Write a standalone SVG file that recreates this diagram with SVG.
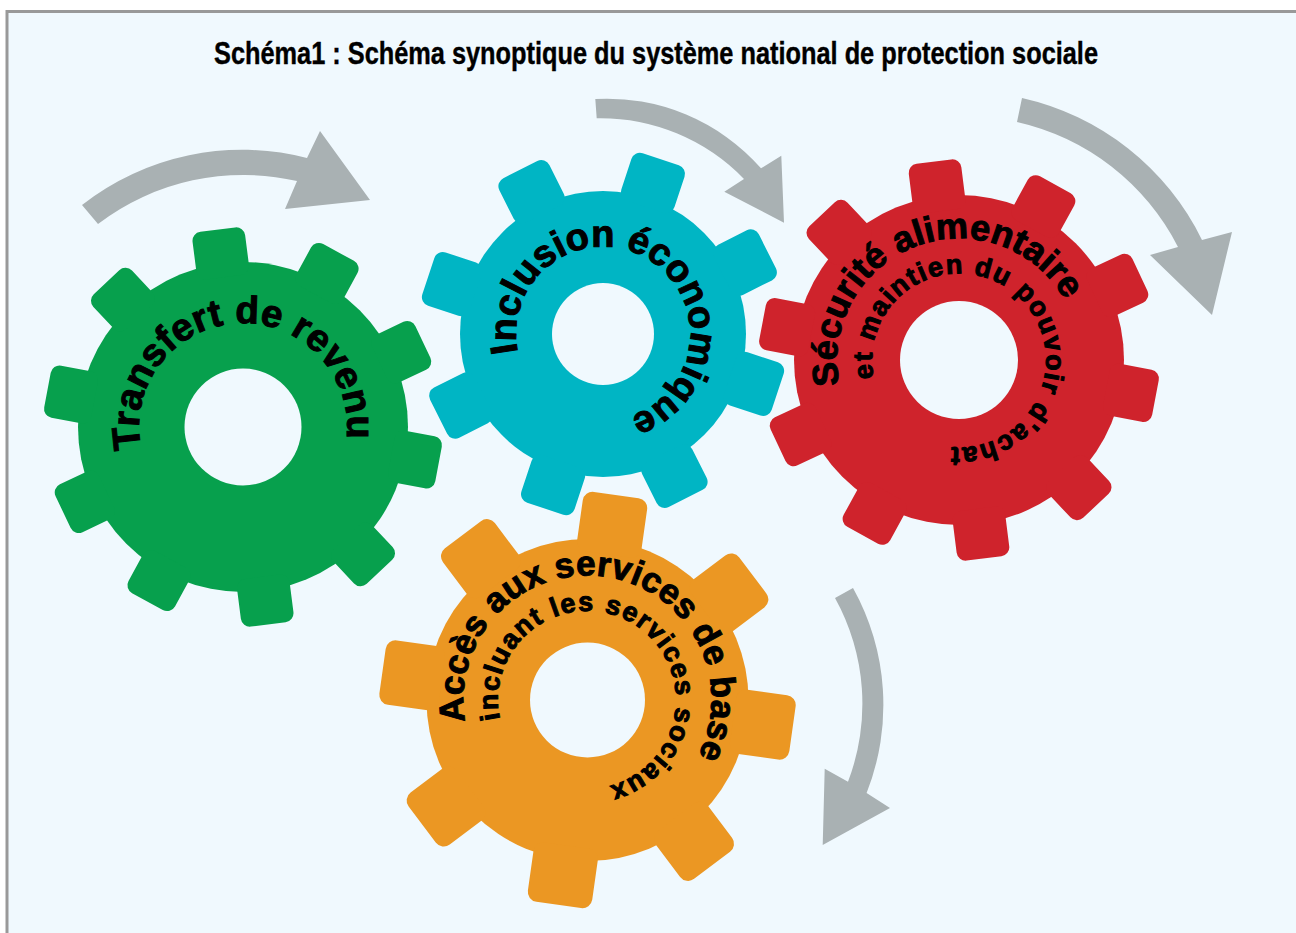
<svg xmlns="http://www.w3.org/2000/svg" width="1296" height="933" viewBox="0 0 1296 933">
<style>
.hole{fill:#f0f9fe}
.arrow{fill:#a9b1b3}
.g{fill:#07a04d}.t{fill:#00b5c4}.r{fill:#cf232c}.o{fill:#eb9723}
.lbl{font-family:"Liberation Sans",Arial,sans-serif;font-weight:bold;fill:#000;stroke:#000;stroke-width:1}
.title{font-family:"Liberation Sans",Arial,sans-serif;font-weight:bold;font-size:31px;fill:#000;stroke:#000;stroke-width:.4}
</style>
<defs>
<rect id="tg" x="-26.5" y="-199" width="53" height="48" rx="9"/>
<rect id="tt" x="-28" y="-184" width="56" height="50" rx="9"/>
<rect id="tr" x="-26.5" y="-200" width="53" height="50" rx="9"/>
<rect id="to" x="-32.5" y="-207" width="65" height="60" rx="10"/>
<path id="pg" d="M141.3,448.6 A104,104 0 1 1 342,459.1"/>
<path id="pt" d="M518,352 A87,87 0 1 1 620,419"/>
<path id="pr1" d="M839.5,385 A122,122 0 1 1 1081,360"/>
<path id="pr2" d="M873.8,378 A87,87 0 1 1 935,444"/>
<path id="po1" d="M465.4,721.5 A124,124 0 1 1 680,782"/>
<path id="po2" d="M500,719 A89,89 0 1 1 605,787"/>
</defs>
<rect x="7" y="11.5" width="1300" height="940" fill="#f0f9fe" stroke="#999" stroke-width="3"/>
<text class="title" x="214" y="64" textLength="884" lengthAdjust="spacingAndGlyphs">Schéma1 : Schéma synoptique du système national de protection sociale</text>
<g id="connectors">
<path class="arrow" d="M82,205 A260,260 0 0 1 307,158 L320,131 L370,200 L285,209 L297,181 A240,240 0 0 0 98,224 Z"/>
<path class="arrow" d="M595.3,99 A205,205 0 0 1 761,168.3 L781.3,155.7 L784,222.7 L724.3,191.7 L744,179 A200,200 0 0 0 596.7,118.3 Z"/>
<path class="arrow" d="M1022,98 A265,265 0 0 1 1202,240 L1232,232 L1212,315 L1150,255 L1178,247 A240,240 0 0 0 1017,122 Z"/>
<path class="arrow" d="M853,588 A240,240 0 0 1 866.6,793 L890,808 L822.7,845 L824.7,768.7 L848,781.7 A218,218 0 0 0 835,598 Z"/>
</g>
<g id="gear-green" class="g" transform="translate(243,427)">
<circle r="165"/>
<use href="#tg" transform="rotate(-7.3)"/><use href="#tg" transform="rotate(28.7)"/><use href="#tg" transform="rotate(64.7)"/><use href="#tg" transform="rotate(100.7)"/><use href="#tg" transform="rotate(136.7)"/><use href="#tg" transform="rotate(172.7)"/><use href="#tg" transform="rotate(208.7)"/><use href="#tg" transform="rotate(244.7)"/><use href="#tg" transform="rotate(280.7)"/><use href="#tg" transform="rotate(316.7)"/>
<circle class="hole" r="58.5"/>
</g>
<g id="gear-teal" class="t" transform="translate(603,334)">
<circle r="143"/>
<use href="#tt" transform="rotate(18.3)"/><use href="#tt" transform="rotate(63.3)"/><use href="#tt" transform="rotate(108.3)"/><use href="#tt" transform="rotate(153.3)"/><use href="#tt" transform="rotate(198.3)"/><use href="#tt" transform="rotate(243.3)"/><use href="#tt" transform="rotate(288.3)"/><use href="#tt" transform="rotate(333.3)"/>
<circle class="hole" r="51"/>
</g>
<g id="gear-red" class="r" transform="translate(959,360)">
<circle r="165"/>
<use href="#tr" transform="rotate(-7.2)"/><use href="#tr" transform="rotate(28.8)"/><use href="#tr" transform="rotate(64.8)"/><use href="#tr" transform="rotate(100.8)"/><use href="#tr" transform="rotate(136.8)"/><use href="#tr" transform="rotate(172.8)"/><use href="#tr" transform="rotate(208.8)"/><use href="#tr" transform="rotate(244.8)"/><use href="#tr" transform="rotate(280.8)"/><use href="#tr" transform="rotate(316.8)"/>
<circle class="hole" r="59"/>
</g>
<g id="gear-orange" class="o" transform="translate(587.5,700)">
<circle r="161"/>
<use href="#to" transform="rotate(8)"/><use href="#to" transform="rotate(53)"/><use href="#to" transform="rotate(98)"/><use href="#to" transform="rotate(143)"/><use href="#to" transform="rotate(188)"/><use href="#to" transform="rotate(233)"/><use href="#to" transform="rotate(278)"/><use href="#to" transform="rotate(323)"/>
<circle class="hole" r="57.5"/>
</g>
<g id="labels">
<text class="lbl" font-size="38.5"><textPath href="#pg" textLength="360">Transfert de revenu</textPath></text>
<text class="lbl" font-size="38"><textPath href="#pt" textLength="400">Inclusion économique</textPath></text>
<text class="lbl" font-size="36"><textPath href="#pr1" textLength="345">Sécurité alimentaire</textPath></text>
<text class="lbl" font-size="27"><textPath href="#pr2" textLength="435">et maintien du pouvoir d'achat</textPath></text>
<text class="lbl" font-size="35"><textPath href="#po1" textLength="470">Accès aux services de base</textPath></text>
<text class="lbl" font-size="27"><textPath href="#po2" textLength="415">incluant les services sociaux</textPath></text>
</g>
</svg>
